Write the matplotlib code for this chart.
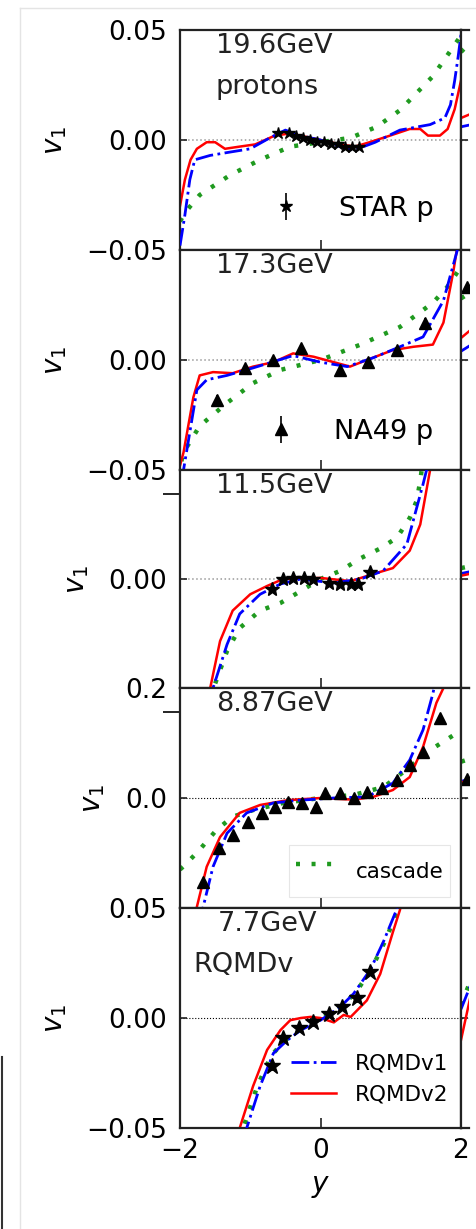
import matplotlib
matplotlib.use('Agg')
import matplotlib.pyplot as plt
from matplotlib.ticker import FuncFormatter
from matplotlib.lines import Line2D

# ---------------- data ----------------
energies = ["19.6GeV", "17.3GeV", "11.5GeV", "8.87GeV", "7.7GeV"]
ylims = [0.05, 0.05, 0.1, 0.2, 0.05]
yticks = [[-0.05, 0.0, 0.05], [-0.05, 0.0], [0.0], [0.0, 0.2], [-0.05, 0.0, 0.05]]
xticks = [-2, 0, 2]

# panel 1 : 19.6 GeV
p1_v2_x = [-2.0, -1.93, -1.85, -1.76, -1.62, -1.5, -1.36, -1.15, -0.93, -0.65, -0.43, -0.29, 0.0,
           0.28, 0.49, 0.7, 0.99, 1.27, 1.42, 1.53, 1.7, 1.81, 1.91, 2.0]
p1_v2_y = [-0.030, -0.018, -0.009, -0.004, -0.001, -0.001, -0.004, -0.003, -0.002, 0.002, 0.003,
           0.002, 0.0, -0.002, -0.003, -0.001, 0.002, 0.005, 0.005, 0.002, 0.002, 0.005, 0.014, 0.027]
p1_v1_x = [-2.0, -1.93, -1.86, -1.79, -1.57, -1.29, -1.0, -0.72, -0.5, -0.29, 0.0, 0.28, 0.49,
           0.78, 1.13, 1.56, 1.77, 1.85, 1.91, 1.96, 2.0]
p1_v1_y = [-0.048, -0.034, -0.018, -0.009, -0.007, -0.0055, -0.004, 0.001, 0.0045, 0.002, 0.0,
           -0.003, -0.0045, -0.001, 0.0045, 0.007, 0.010, 0.016, 0.027, 0.038, 0.048]
p1_cas_x = [-2.0, -1.93, -1.72, -1.29, -0.86, -0.43, 0.0, 0.43, 0.8, 1.13, 1.6, 1.99]
p1_cas_y = [-0.037, -0.033, -0.025, -0.016, -0.009, -0.003, -0.001, 0.001, 0.006, 0.0135, 0.029, 0.047]
p1_dat_x = [-0.6, -0.45, -0.35, -0.25, -0.15, -0.05, 0.05, 0.15, 0.25, 0.35, 0.45, 0.55]
p1_dat_y = [0.003, 0.003, 0.002, 0.001, 0.0, -0.001, -0.001, -0.002, -0.002, -0.003, -0.003, -0.003]
p1_dat_e = [0.001] * 12

# panel 2 : 17.3 GeV
p2_v2_x = [-2.0, -1.95, -1.81, -1.72, -1.53, -1.25, -0.96, -0.67, -0.39, -0.1, 0.19, 0.42, 0.66,
           1.03, 1.32, 1.6, 1.75, 1.89, 1.95]
p2_v2_y = [-0.048, -0.042, -0.017, -0.007, -0.0055, -0.006, -0.003, -0.001, 0.003, 0.0015, -0.001,
           -0.003, 0.0, 0.0045, 0.006, 0.007, 0.017, 0.040, 0.052]
p2_v1_x = [-1.98, -1.95, -1.76, -1.62, -1.33, -0.96, -0.39, 0.0, 0.38, 0.75, 1.13, 1.46, 1.75, 1.94, 1.97]
p2_v1_y = [-0.055, -0.05, -0.0136, -0.009, -0.007, -0.0036, 0.002, -0.001, -0.003, 0.001, 0.006,
           0.0105, 0.027, 0.049, 0.053]
p2_cas_x = [-1.98, -1.95, -1.72, -1.33, -0.96, -0.57, 0.0, 0.57, 1.13, 1.6, 1.8, 1.95]
p2_cas_y = [-0.046, -0.042, -0.030, -0.0195, -0.0105, -0.0045, 0.0, 0.007, 0.015, 0.026, 0.033, 0.040]
p2_dat_x = [-1.47, -1.07, -0.67, -0.28, 0.28, 0.68, 1.09, 1.49]
p2_dat_y = [-0.018, -0.0036, 0.0, 0.0055, -0.0045, -0.001, 0.0045, 0.017]
p2_dat_e = [0.002] * 8

# panel 3 : 11.5 GeV
p3_v2_x = [-1.6, -1.57, -1.43, -1.25, -1.0, -0.76, -0.53, 0.0, 0.43, 0.75, 1.03, 1.27, 1.42, 1.56, 1.6]
p3_v2_y = [-0.12, -0.1, -0.057, -0.029, -0.014, -0.0064, 0.0, 0.001, -0.002, 0.0046, 0.01, 0.026,
           0.05, 0.1, 0.12]
p3_v1_x = [-1.56, -1.53, -1.33, -1.15, -0.86, -0.57, -0.28, 0.19, 0.57, 0.89, 1.23, 1.46, 1.51, 1.54]
p3_v1_y = [-0.12, -0.1, -0.06, -0.032, -0.014, -0.0046, 0.0, -0.0037, 0.0, 0.0074, 0.032, 0.087, 0.1, 0.12]
p3_cas_x = [-1.52, -1.5, -1.33, -1.15, -0.86, -0.57, -0.28, 0.0, 0.28, 0.57, 0.85, 1.09, 1.27, 1.37, 1.42, 1.46]
p3_cas_y = [-0.11, -0.096, -0.066, -0.045, -0.029, -0.022, -0.011, 0.0, 0.0074, 0.019, 0.028, 0.038,
            0.056, 0.072, 0.09, 0.11]
p3_dat_x = [-0.69, -0.53, -0.39, -0.24, -0.1, 0.12, 0.28, 0.43, 0.54, 0.71]
p3_dat_y = [-0.009, 0.0, 0.001, 0.001, 0.0, -0.004, -0.005, -0.005, -0.005, 0.006]
p3_dat_e = [0.002] * 10

# panel 4 : 8.87 GeV
p4_v2_x = [-1.79, -1.76, -1.62, -1.43, -1.15, -0.86, -0.47, 0.0, 0.47, 0.75, 1.03, 1.27, 1.46,
           1.65, 1.75, 1.78]
p4_v2_y = [-0.23, -0.198, -0.125, -0.071, -0.027, -0.0127, -0.004, 0.0, -0.003, 0.002, 0.0145,
           0.038, 0.093, 0.173, 0.2, 0.22]
p4_v1_x = [-1.7, -1.67, -1.53, -1.33, -1.05, -0.67, -0.29, 0.19, 0.66, 1.03, 1.27, 1.46, 1.6, 1.65]
p4_v1_y = [-0.23, -0.198, -0.125, -0.064, -0.027, -0.009, -0.004, 0.0, 0.002, 0.027, 0.069, 0.124,
           0.19, 0.22]
p4_cas_x = [-2.0, -1.93, -1.72, -1.48, -1.25, -0.96, -0.53, 0.0, 0.47, 0.9, 1.27, 1.56, 1.94, 2.0]
p4_cas_y = [-0.13, -0.122, -0.094, -0.058, -0.034, -0.022, -0.009, 0.0, 0.0055, 0.02, 0.056,
            0.087, 0.118, 0.122]
p4_dat_x = [-1.67, -1.45, -1.25, -1.03, -0.83, -0.65, -0.46, -0.26, -0.07, 0.07, 0.28, 0.47, 0.66,
            0.87, 1.09, 1.27, 1.46, 1.7]
p4_dat_y = [-0.153, -0.091, -0.067, -0.044, -0.027, -0.016, -0.007, -0.009, -0.016, 0.009, 0.009,
            0.0, 0.011, 0.018, 0.033, 0.06, 0.084, 0.145]
p4_dat_e = [0.004] * 18

# panel 5 : 7.7 GeV
p5_v2_x = [-1.18, -1.15, -0.96, -0.76, -0.57, -0.43, -0.28, -0.14, 0.0, 0.19, 0.33, 0.43, 0.66,
           0.85, 1.03, 1.13, 1.16]
p5_v2_y = [-0.055, -0.05, -0.031, -0.0145, -0.0055, -0.001, 0.0, 0.0005, 0.0, -0.002, 0.0014,
           0.0005, 0.008, 0.02, 0.039, 0.049, 0.053]
p5_v1_x = [-1.08, -1.05, -0.86, -0.67, -0.47, -0.28, 0.0, 0.28, 0.47, 0.71, 0.9, 1.08, 1.11]
p5_v1_y = [-0.055, -0.05, -0.031, -0.016, -0.01, -0.0055, -0.001, 0.005, 0.011, 0.022, 0.035, 0.049, 0.053]
p5_cas_x = [-1.12, -1.1, -0.9, -0.7, -0.5, -0.3, 0.0, 0.3, 0.5, 0.72, 0.92, 1.1, 1.13]
p5_cas_y = [-0.055, -0.05, -0.031, -0.017, -0.010, -0.0055, -0.0005, 0.0055, 0.0115, 0.022, 0.035,
            0.049, 0.053]
p5_dat_x = [-0.69, -0.53, -0.31, -0.11, 0.12, 0.31, 0.52, 0.71]
p5_dat_y = [-0.022, -0.009, -0.0045, -0.002, 0.002, 0.005, 0.009, 0.021]
p5_dat_e = [0.002] * 8

# neighbouring column (only its left edge is visible)
nb_x = [-2.0, -1.85]
nb_v2 = [[0.010, 0.012], [0.010, 0.014], [0.003, 0.005], [0.028, 0.034], [-0.010, 0.012]]
nb_v1 = [[0.006, 0.007], [0.004, 0.007], [0.005, 0.007], [0.030, 0.036], [0.004, 0.016]]
nb_cas = [[0.040, 0.045], [0.028, 0.031], [0.010, 0.012], [0.066, 0.072], [0.006, 0.018]]
nb_dat_x = [-1.91]
nb_dat_y = [None, 0.033, None, 0.035, None]

model_x = [[p1_v1_x, p1_v2_x, p1_cas_x], [p2_v1_x, p2_v2_x, p2_cas_x], [p3_v1_x, p3_v2_x, p3_cas_x],
           [p4_v1_x, p4_v2_x, p4_cas_x], [p5_v1_x, p5_v2_x, p5_cas_x]]
model_y = [[p1_v1_y, p1_v2_y, p1_cas_y], [p2_v1_y, p2_v2_y, p2_cas_y], [p3_v1_y, p3_v2_y, p3_cas_y],
           [p4_v1_y, p4_v2_y, p4_cas_y], [p5_v1_y, p5_v2_y, p5_cas_y]]
data_x = [p1_dat_x, p2_dat_x, p3_dat_x, p4_dat_x, p5_dat_x]
data_y = [p1_dat_y, p2_dat_y, p3_dat_y, p4_dat_y, p5_dat_y]
data_e = [p1_dat_e, p2_dat_e, p3_dat_e, p4_dat_e, p5_dat_e]
data_marker = ['*', '^', '*', '^', '*']
data_ms = [9, 9, 10, 8.5, 12]

# ---------------- layout / style ----------------
W, H = 476, 1229
fig = plt.figure(figsize=(W / 100, H / 100), dpi=100)
fig.patch.set_facecolor('white')

LEFT, RIGHT = 180, 461
TOPS = [30, 250, 470, 688, 908]
BOTS = [250, 470, 688, 908, 1128]
FS = 19
LFS = 15.5
SPINE = '#222222'

def fx(px):
    return px / W

def fy(py):
    return 1 - py / H

def fmt_factory(nd):
    def f(v, pos):
        if abs(v) < 1e-12:
            v = 0.0
        return f"{v:.{nd}f}".replace('-', '\u2212')
    return FuncFormatter(f)

styles = [dict(color='blue', ls='-.', lw=2.0),
          dict(color='red', ls='-', lw=1.8),
          dict(color='#1f9a1f', ls=(0, (0.9, 2.6)), lw=3.2)]
labels = ['RQMDv1', 'RQMDv2', 'cascade']

# decorative frame of the screenshot
fig.add_artist(Line2D([fx(20), fx(20)], [fy(8), 0], color='#e4e4e4', lw=1))
fig.add_artist(Line2D([fx(20), 1], [fy(8), fy(8)], color='#e4e4e4', lw=1))
fig.add_artist(Line2D([fx(2), fx(2)], [fy(1057), 0], color='#333333', lw=1.5))

for i in range(5):
    ax = fig.add_axes([fx(LEFT), fy(BOTS[i]), (RIGHT - LEFT) / W, (BOTS[i] - TOPS[i]) / H])
    ax.set_xlim(-2, 2)
    ax.set_ylim(-ylims[i], ylims[i])
    ax.axhline(0, color=('#9a9a9a' if i < 3 else 'black'), ls=':', lw=(1.1 if i < 3 else 0.8), zorder=1)
    handles = []
    for k in range(3):
        h, = ax.plot(model_x[i][k], model_y[i][k], label=labels[k], zorder=3 - k * 0.5, **styles[k])
        handles.append(h)
    eb = ax.errorbar(data_x[i], data_y[i], yerr=data_e[i], fmt=data_marker[i], color='black',
                     ms=data_ms[i], elinewidth=1.2, capsize=0, zorder=4)
    ax.set_xticks(xticks)
    ax.set_yticks(yticks[i])
    ax.yaxis.set_major_formatter(fmt_factory(1 if i == 3 else 2))
    ax.tick_params(direction='in', labelsize=FS, width=1.2, color=SPINE)
    ax.tick_params(axis='y', length=5, pad=9)
    ax.tick_params(axis='x', length=7, pad=7)
    if i in (2, 3):
        ax.set_yticks([ylims[i] * 0.78], minor=True)
        ax.tick_params(axis='y', which='minor', direction='out', length=12, width=1.2)
    for s in ax.spines.values():
        s.set_color(SPINE)
        s.set_linewidth(1.6)
    ax.set_ylabel('$v_1$', fontsize=FS + 1, labelpad=13)
    if i < 4:
        ax.tick_params(axis='x', labelbottom=False)
    else:
        ax.set_xlabel('$y$', fontsize=FS + 1, labelpad=6)

    if i != 4:
        ax.text(0.128, 0.985, energies[i], transform=ax.transAxes, ha='left', va='top',
                fontsize=FS + 0.5, color='#222222')
    if i == 0:
        ax.text(0.128, 0.80, 'protons', transform=ax.transAxes, ha='left', va='top',
                fontsize=FS + 0.5, color='#222222')
        ax.legend([eb], ['STAR p'], loc='lower right', bbox_to_anchor=(0.94, 0.08), frameon=False,
                  fontsize=FS + 0.5, handlelength=1.0, handletextpad=1.45, borderaxespad=0)
    if i == 1:
        ax.legend([eb], ['NA49 p'], loc='lower right', bbox_to_anchor=(0.94, 0.065), frameon=False,
                  fontsize=FS + 0.5, handlelength=1.0, handletextpad=1.45, borderaxespad=0)
    if i == 3:
        lg = ax.legend([handles[2]], ['cascade'], loc='lower right', fontsize=LFS, fancybox=False,
                       handlelength=2.0, handleheight=2.45, handletextpad=0.8, borderpad=0.3,
                       borderaxespad=0.5)
        lg.get_frame().set_edgecolor('#e0e0e0')
        lg.get_frame().set_linewidth(0.8)
    if i == 4:
        ax.text(0.133, 0.985, energies[i], transform=ax.transAxes, ha='left', va='top',
                fontsize=FS + 0.5, color='#222222')
        ax.text(0.046, 0.80, 'RQMDv', transform=ax.transAxes, ha='left', va='top',
                fontsize=FS + 0.5, color='#222222')
        ax.legend(handles[:2], labels[:2], loc='lower right', frameon=False, fontsize=LFS,
                  handlelength=2.1, handletextpad=0.85, bbox_to_anchor=(1.0, 0.05), borderaxespad=0.2)

    # neighbouring column, clipped at the picture edge
    nx = fig.add_axes([fx(RIGHT), fy(BOTS[i]), 8 / W, (BOTS[i] - TOPS[i]) / H])
    nx.set_xlim(-2, -2 + 8 / 70.25)
    nx.set_ylim(-ylims[i], ylims[i])
    nx.axhline(0, color=('#9a9a9a' if i < 3 else 'black'), ls=':', lw=1, zorder=1)
    nx.plot(nb_x, nb_cas[i], **styles[2])
    nx.plot(nb_x, nb_v1[i], **styles[0])
    nx.plot(nb_x, nb_v2[i], **styles[1])
    if nb_dat_y[i] is not None:
        nx.plot(nb_dat_x, [nb_dat_y[i]], '^', color='black', ms=9)
    nx.set_xticks([])
    nx.set_yticks([0])
    nx.tick_params(direction='in', labelleft=False, length=5, width=1.2, color=SPINE)
    nx.spines['right'].set_visible(False)
    for s in ('left', 'top', 'bottom'):
        nx.spines[s].set_color(SPINE)
        nx.spines[s].set_linewidth(1.6)

fig.savefig('out.png', dpi=100, facecolor='white')
